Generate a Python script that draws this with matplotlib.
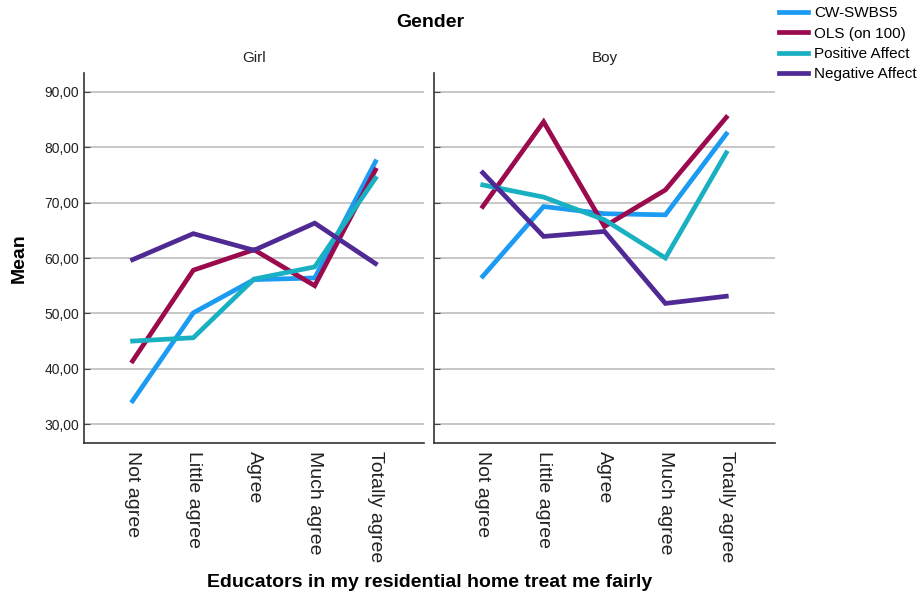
import matplotlib
matplotlib.use('Agg')
import matplotlib.pyplot as plt
from matplotlib.ticker import FuncFormatter

plt.rcParams['font.family'] = ['Liberation Sans', 'DejaVu Sans']

# ---------------------------------------------------------------------------
# Data
# ---------------------------------------------------------------------------
categories = ['Not agree', 'Little agree', 'Agree', 'Much agree', 'Totally agree']
panels = ['Girl', 'Boy']
series_names = ['CW-SWBS5', 'OLS (on 100)', 'Positive Affect', 'Negative Affect']

girl_cw = [34.2, 50.1, 56.1, 56.4, 77.4]
girl_ols = [41.4, 57.8, 61.5, 55.0, 75.9]
girl_pos = [45.0, 45.6, 56.2, 58.4, 74.4]
girl_neg = [59.7, 64.4, 61.4, 66.3, 59.0]

boy_cw = [56.7, 69.3, 68.0, 67.8, 82.4]
boy_ols = [69.3, 84.6, 65.7, 72.3, 85.4]
boy_pos = [73.2, 71.0, 66.9, 60.0, 79.0]
boy_neg = [75.4, 63.9, 64.8, 51.8, 53.1]

yticks = [30, 40, 50, 60, 70, 80, 90]

COLORS = ['#1C9BF2', '#9C0A4E', '#19B1C2', '#4F2A94']

data = {
    'Girl': [girl_cw, girl_ols, girl_pos, girl_neg],
    'Boy': [boy_cw, boy_ols, boy_pos, boy_neg],
}

fig = plt.figure(figsize=(9.19, 5.99), dpi=100)

ax_left = fig.add_axes([0.0914, 0.2605, 0.370, 0.6175])
ax_right = fig.add_axes([0.4723, 0.2605, 0.371, 0.6175], sharey=ax_left)

handles = []
for ax, panel in zip([ax_left, ax_right], panels):
    x = list(range(len(categories)))
    for i, vals in enumerate(data[panel]):
        h, = ax.plot(x, vals, color=COLORS[i], linewidth=3.4,
                     solid_joinstyle='miter', label=series_names[i])
        if panel == 'Girl':
            handles.append(h)
    ax.set_xlim(-0.8, 4.8)
    ax.set_ylim(26.6, 93.4)
    ax.set_yticks(yticks)
    ax.yaxis.grid(True, color='#BDBDBD', linewidth=1.2)
    ax.set_axisbelow(True)
    ax.set_xticks(x)
    ax.set_xticklabels(categories, rotation=270, fontsize=14,
                       va='top', ha='center', color='#222222')
    ax.tick_params(axis='x', length=0, pad=6)
    ax.tick_params(axis='y', direction='in', length=4, color='#444444')
    for s in ['top', 'right']:
        ax.spines[s].set_visible(False)
    for s in ['left', 'bottom']:
        ax.spines[s].set_color('#333333')
        ax.spines[s].set_linewidth(1.2)
    ax.set_title(panel, fontsize=11, color='#222222', pad=8)

ax_left.yaxis.set_major_formatter(FuncFormatter(lambda v, p: f'{v:.2f}'.replace('.', ',')))
ax_left.tick_params(axis='y', labelsize=10, labelcolor='#222222')
ax_right.tick_params(axis='y', labelleft=False)

ax_left.set_ylabel('Mean', fontsize=14, fontweight='bold', labelpad=12)

fig.text(0.468, 0.963, 'Gender', fontsize=14, fontweight='bold',
         ha='center', va='center')
fig.text(0.468, 0.027, 'Educators in my residential home treat me fairly',
         fontsize=14, fontweight='bold', ha='center', va='center')

fig.legend(handles=handles, loc='upper left', bbox_to_anchor=(0.838, 1.005),
           frameon=False, fontsize=11, handlelength=1.9, handletextpad=0.4,
           labelspacing=0.42, borderaxespad=0.2)

fig.savefig('out.png', dpi=100)
